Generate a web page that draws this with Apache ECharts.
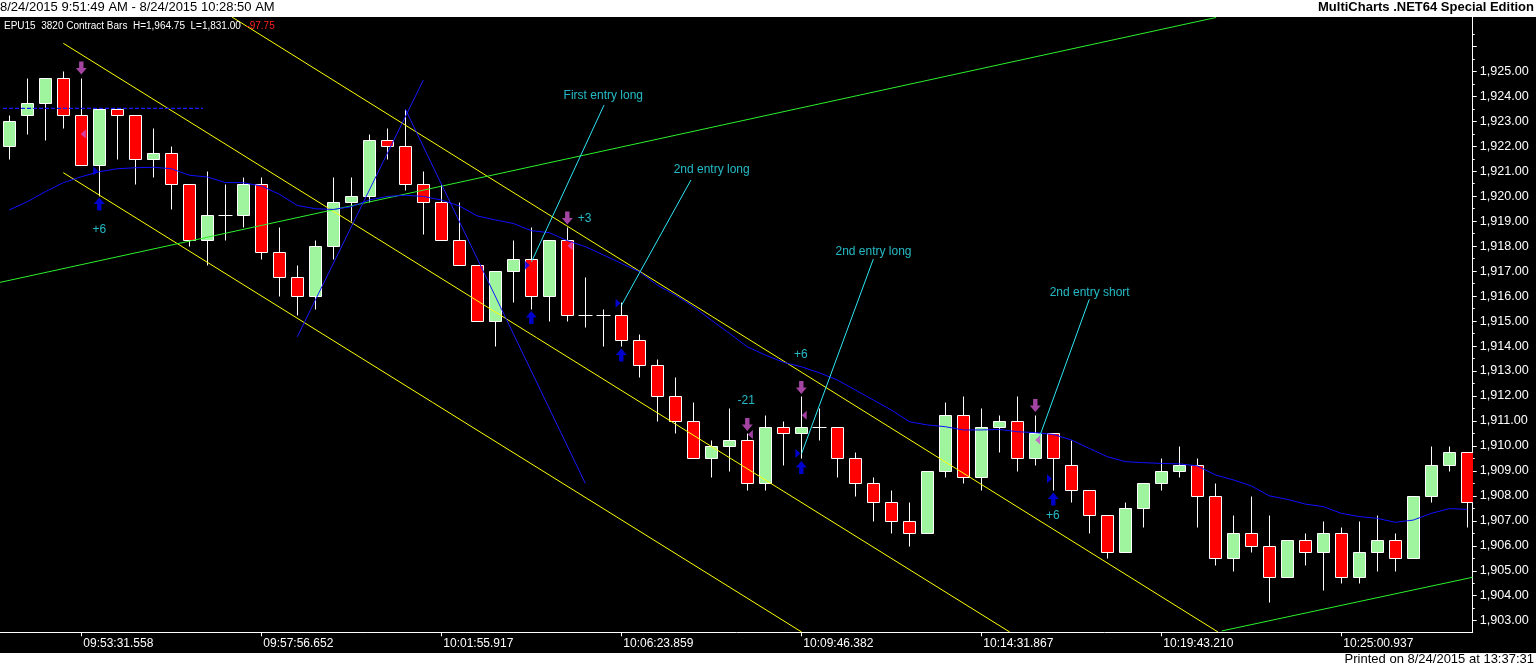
<!DOCTYPE html>
<html>
<head>
<meta charset="utf-8">
<script src="https://cdn.jsdelivr.net/npm/echarts@6/dist/echarts.min.js"></script>
<style>
html,body{margin:0;padding:0;background:#000;}
#chart{width:1536px;height:668px;}
</style>
</head>
<body>
<div id="chart"></div>
<script>
// ---- data ----
const opens  = [1922,1923.25,1923.75,1924.75,1923.25,1921.25,1923.5,1923.25,1921.5,1921.75,1920.5,1918.25,1919.25,1919.25,1920.5,1917.75,1916.75,1916,1918,1919.75,1920,1922.25,1922,1920.5,1919.75,1918.25,1917.25,1915,1917,1917.5,1916,1918.25,1915.25,1915.25,1915.25,1914.25,1913.25,1912,1911,1909.5,1910,1910.25,1908.5,1910.75,1910.5,1910.75,1910.75,1909.5,1908.5,1907.75,1907,1906.5,1909,1911.25,1908.75,1910.75,1911,1909.5,1910.5,1909.25,1908.25,1907.25,1905.75,1907.5,1908.5,1909,1909.25,1908,1905.5,1906.5,1906,1904.75,1906.25,1905.75,1906.5,1904.75,1905.75,1906.25,1905.5,1908,1909.25,1909.75];
const highs  = [1923.25,1924.75,1924.75,1925,1924.75,1923.5,1923.5,1923.25,1922.75,1922,1920.5,1921,1920.5,1920.75,1920.75,1918.75,1917.25,1918.25,1920.75,1920.75,1922.5,1922.75,1923.5,1921,1920.5,1919.75,1917.25,1917,1918.25,1918.75,1918.25,1918.75,1916.75,1915.5,1915.75,1914.5,1913.5,1912.75,1911.75,1910.25,1911.5,1910.5,1911.25,1911,1912,1911.5,1910.75,1909.75,1908.75,1908.25,1907.75,1909,1911.75,1912,1911.5,1911.25,1912,1911.25,1910.5,1910.25,1908.25,1907.25,1907.75,1908.5,1909.5,1910,1909.5,1908.5,1907.25,1908,1907.25,1906.25,1906.5,1907,1906.75,1907,1907.25,1906.5,1908,1910,1910,1909.75];
const lows   = [1921.5,1922.5,1922.25,1922.75,1921.25,1920,1921.5,1920.5,1920.75,1919.5,1918,1917.25,1918.25,1918.75,1917.5,1916,1915.25,1915.5,1917.5,1919,1919.75,1921.5,1920.25,1918.5,1918.25,1917.25,1915,1914,1915.75,1915.5,1915,1915,1914.75,1914,1914,1912.75,1911,1910.5,1909.5,1908.75,1909,1908.25,1908.25,1909.25,1909.5,1910.25,1908.75,1908,1907,1906.5,1906,1906.5,1908.75,1908.5,1908.25,1909.75,1909,1909.25,1908.25,1907.75,1906.5,1905.5,1905.75,1906.75,1908.25,1908.75,1906.75,1905.25,1905,1905.75,1903.75,1904.75,1905.25,1904.25,1904.5,1904.5,1905,1905,1905.5,1907.75,1909,1906.75];
const closes = [1923,1923.75,1924.75,1923.25,1921.25,1923.5,1923.25,1921.5,1921.75,1920.5,1918.25,1919.25,1919.25,1920.5,1917.75,1916.75,1916,1918,1919.75,1920,1922.25,1922,1920.5,1919.75,1918.25,1917.25,1915,1917,1917.5,1916,1918.25,1915.25,1915.25,1915.25,1914.25,1913.25,1912,1911,1909.5,1910,1910.25,1908.5,1910.75,1910.5,1910.75,1910.75,1909.5,1908.5,1907.75,1907,1906.5,1909,1911.25,1908.75,1910.75,1911,1909.5,1910.5,1909.5,1908.25,1907.25,1905.75,1907.5,1908.5,1909,1909.25,1908,1905.5,1906.5,1906,1904.75,1906.25,1905.75,1906.5,1904.75,1905.75,1906.25,1905.5,1908,1909.25,1909.75,1907.75];
const movingAvg = [1919.45,1919.78,1920.18,1920.54,1920.78,1920.98,1921.1,1921.14,1921.16,1921.1,1920.84,1920.77,1920.55,1920.54,1920.41,1920.08,1919.63,1919.5,1919.47,1919.58,1919.85,1919.99,1920.04,1919.99,1919.85,1919.61,1919.21,1919.05,1918.91,1918.62,1918.54,1918.22,1917.98,1917.65,1917.31,1916.98,1916.44,1916.04,1915.58,1915.04,1914.51,1913.97,1913.64,1913.35,1913.17,1912.93,1912.64,1912.24,1911.84,1911.44,1910.97,1910.84,1910.77,1910.64,1910.64,1910.66,1910.57,1910.53,1910.46,1910.24,1909.9,1909.57,1909.37,1909.33,1909.3,1909.28,1909.2,1908.84,1908.64,1908.4,1908.0,1907.86,1907.67,1907.57,1907.3,1907.17,1907.1,1906.94,1907.03,1907.3,1907.49,1907.46];

const timeTickIdx = [4,14,24,34,44,54,64,74];
const timeLabels = ['09:53:31.558','09:57:56.652','10:01:55.917','10:06:23.859','10:09:46.382','10:14:31.867','10:19:43.210','10:25:00.937'];
const priceLabels = [1903,1904,1905,1906,1907,1908,1909,1910,1911,1912,1913,1914,1915,1916,1917,1918,1919,1920,1921,1922,1923,1924,1925];
const priceTicks = priceLabels.concat([1926]);
const priceMinorTicks = [1902.5,1903.5,1904.5,1905.5,1906.5,1907.5,1908.5,1909.5,1910.5,1911.5,1912.5,1913.5,1914.5,1915.5,1916.5,1917.5,1918.5,1919.5,1920.5,1921.5,1922.5,1923.5,1924.5,1925.5,1926.5];

// trend lines (bar index, price)
const yellowLines = [
  [[3.0,1926.124],[55.58,1902.547]],
  [[12.37,1927.177],[67.15,1902.547]],
  [[3.0,1920.942],[44.02,1902.547]]
];
const greenLines = [
  [[-0.517,1916.549],[67.04,1927.157]],
  [[67.36,1902.59],[81.3,1904.74]]
];
const blueLines = [
  [[16.0,1914.37],[23.0,1924.65]],
  [[22.0,1923.49],[32.0,1908.5]]
];
const dashedLevel = [[-0.35,1923.52],[10.76,1923.52]];

// annotations
const noteTexts = ['First entry long','2nd entry long','2nd entry long','2nd entry short'];
const notePos = [[33,1924.01],[39.02,1921.05],[48.01,1917.78],[60.02,1916.13]];
const noteLines = [
  [[33.04,1923.65],[29.01,1917.37]],
  [[37.87,1920.65],[34.02,1915.64]],
  [[48.0,1917.48],[44.02,1909.70]],
  [[60.0,1915.87],[57.17,1910.24]]
];
const pnlTexts = ['+6','+3','-21','+6','+6'];
const pnlPos = [[5,1918.65],[31.96,1919.12],[40.94,1911.82],[43.97,1913.65],[57.97,1907.2]];

const buyArrows = [[5,1919.69],[29,1915.14],[34,1913.64],[44,1909.14],[58,1907.87]];
const sellArrows = [[4,1925.13],[31,1919.13],[41,1910.86],[44,1912.34],[57,1911.62]];
const exitMarks = [[4.11,1922.49],[31.15,1918.02],[41.17,1910.46],[44.16,1911.23],[57.13,1910.24]];
const entryMarks = [[4.8,1921.01],[28.78,1917.24],[33.82,1915.71],[43.81,1909.70],[57.79,1908.69]];

// ---- chart ----
const FONT = "'Liberation Sans', Arial, sans-serif";
const CYAN = '#2ee6f5';
const candleRows = opens.map((o, i) => [i, o, closes[i], lows[i], highs[i]]);

function renderCandle(params, api) {
  const i = api.value(0), o = api.value(1), c = api.value(2), l = api.value(3), h = api.value(4);
  const pO = api.coord([i, o]), pC = api.coord([i, c]);
  const pL = api.coord([i, l]), pH = api.coord([i, h]);
  const x = Math.round(pO[0]) + 0.5;
  const snap = v => Math.round(v) + 0.5;
  const children = [{
    type: 'line',
    shape: {x1: x, y1: snap(pH[1]), x2: x, y2: snap(pL[1])},
    style: {stroke: '#ffffff', lineWidth: 1}
  }];
  if (o === c) {
    children.push({
      type: 'line',
      shape: {x1: x - 7, y1: snap(pO[1]), x2: x + 7, y2: snap(pO[1])},
      style: {stroke: '#ffffff', lineWidth: 1}
    });
  } else {
    const yTop = snap(Math.min(pO[1], pC[1]));
    const yBot = snap(Math.max(pO[1], pC[1]));
    children.push({
      type: 'rect',
      shape: {x: x - 6, y: yTop, width: 12, height: yBot - yTop},
      style: {fill: c > o ? '#9ef59e' : '#ff0000', stroke: '#ffffff', lineWidth: 1}
    });
  }
  return {type: 'group', children};
}

function lineSeries(pts, color, extra) {
  return Object.assign({
    type: 'line', data: pts, showSymbol: false, silent: true, z: 5,
    lineStyle: {color: color, width: 1}, animation: false
  }, extra || {});
}

const upPath = 'path://M5,0 L10,6 L7,6 L7,12 L3,12 L3,6 L0,6 Z';

const series = [
  {type: 'custom', data: candleRows, renderItem: renderCandle, encode: {x: 0, y: [1,2,3,4]}, z: 2, clip: true, silent: true}
];
yellowLines.forEach(l => series.push(lineSeries(l, '#ffff00')));
greenLines.forEach(l => series.push(lineSeries(l, '#2bf02b')));
blueLines.forEach(l => series.push(lineSeries(l, '#1a1aff')));
series.push(lineSeries(dashedLevel, '#1a1aff', {lineStyle: {color: '#1a1aff', width: 1.2, type: [4, 2]}}));
series.push(lineSeries(movingAvg.map((v, i) => [i, v]), '#1010ff'));
noteLines.forEach(l => series.push(lineSeries(l, CYAN, {z: 6})));

series.push({
  type: 'scatter', data: buyArrows, symbol: upPath, symbolSize: [11, 13], symbolKeepAspect: false,
  itemStyle: {color: '#0000ff'}, z: 7, silent: true
});
series.push({
  type: 'scatter', data: sellArrows, symbol: upPath, symbolSize: [11, 13], symbolRotate: 180, symbolKeepAspect: false,
  itemStyle: {color: '#cc55cc'}, z: 7, silent: true
});
series.push({
  type: 'scatter', data: exitMarks, symbol: 'triangle', symbolSize: [9, 5], symbolRotate: 90,
  itemStyle: {color: '#cc4fcc'}, z: 7, silent: true
});
series.push({
  type: 'scatter', data: entryMarks, symbol: 'triangle', symbolSize: [9, 5], symbolRotate: -90,
  itemStyle: {color: '#0000ff'}, z: 7, silent: true
});
series.push({
  type: 'scatter', data: pnlPos.map((p, i) => [p[0], p[1], pnlTexts[i]]), symbolSize: 0, z: 8, silent: true,
  label: {show: true, position: 'inside', formatter: p => p.value[2], color: CYAN, fontSize: 12, fontFamily: FONT}
});
series.push({
  type: 'scatter', data: notePos.map((p, i) => [p[0], p[1], noteTexts[i]]), symbolSize: 0, z: 8, silent: true,
  label: {show: true, position: 'inside', formatter: p => p.value[2], color: CYAN, fontSize: 12, fontFamily: FONT}
});

const chart = echarts.init(document.getElementById('chart'), null, {renderer: 'canvas'});
chart.setOption({
  backgroundColor: '#000000',
  animation: false,
  grid: {left: 0, right: 63.3, top: 17, bottom: 35.7, containLabel: false},
  xAxis: {
    type: 'value', min: -0.5167, max: 81.3,
    splitLine: {show: false},
    axisLine: {show: true, onZero: false, lineStyle: {color: '#ffffff', width: 1}},
    axisTick: {show: true, length: 4, lineStyle: {color: '#ffffff'}, customValues: timeTickIdx},
    axisLabel: {
      show: true, customValues: timeTickIdx, align: 'left', margin: 5, padding: [0, 0, 0, 2],
      color: '#ffffff', fontSize: 12, fontFamily: FONT,
      formatter: v => timeLabels[timeTickIdx.indexOf(Math.round(v))] || ''
    }
  },
  yAxis: [{
    type: 'value', position: 'right', min: 1902.536, max: 1927.177,
    splitLine: {show: false},
    axisLine: {show: true, onZero: false, lineStyle: {color: '#ffffff', width: 1}},
    axisTick: {show: true, length: 4, lineStyle: {color: '#ffffff'}, customValues: priceTicks},
    axisLabel: {
      show: true, customValues: priceLabels, margin: 7, color: '#ffffff', fontSize: 12.6, fontFamily: FONT,
      formatter: v => Number(v).toLocaleString('en-US', {minimumFractionDigits: 2, maximumFractionDigits: 2})
    }
  }, {
    type: 'value', position: 'right', offset: 0, min: 1902.536, max: 1927.177,
    splitLine: {show: false},
    axisLine: {show: false, onZero: false},
    axisTick: {show: true, length: 2, lineStyle: {color: '#ffffff'}, customValues: priceMinorTicks},
    axisLabel: {show: false}
  }],
  graphic: [
    {type: 'rect', shape: {x: 0, y: 0, width: 1536, height: 17}, style: {fill: '#ffffff'}, z: 100},
    {type: 'rect', shape: {x: 0, y: 653, width: 1536, height: 15}, style: {fill: '#ffffff'}, z: 100},
    {type: 'text', left: 0, top: 1, z: 101,
      style: {text: '8/24/2015 9:51:49 AM - 8/24/2015 10:28:50 AM', fill: '#000000', font: '13px ' + FONT}},
    {type: 'text', right: 2, top: 1, z: 101,
      style: {text: 'MultiCharts .NET64 Special Edition', fill: '#000000', font: 'bold 13px ' + FONT}},
    {type: 'text', right: 2, top: 653, z: 101,
      style: {text: 'Printed on 8/24/2015 at 13:37:31', fill: '#000000', font: '13px ' + FONT}},
    {type: 'text', left: 4, top: 21, z: 101,
      style: {
        text: '{w|EPU15  3820 Contract Bars  H=1,964.75  L=1,831.00}  {r|-97.75}',
        rich: {
          w: {fill: '#ffffff', font: '10px ' + FONT},
          r: {fill: '#ff2020', font: '10px ' + FONT}
        },
        font: '10px ' + FONT
      }}
  ],
  series: series
});
</script>
</body>
</html>
